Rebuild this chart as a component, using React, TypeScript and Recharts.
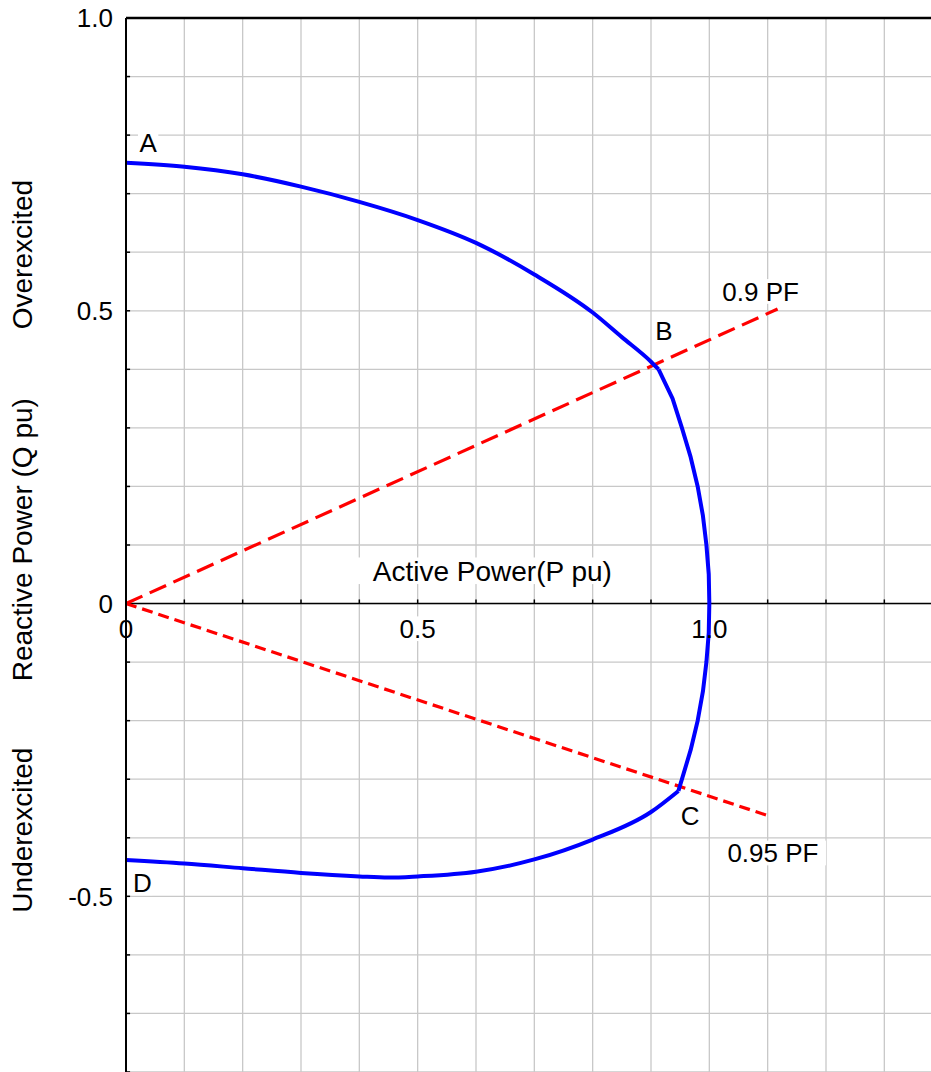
import React from "react";
import {
  CartesianGrid,
  ComposedChart,
  Line,
  ReferenceDot,
  ReferenceLine,
  XAxis,
  YAxis,
} from "recharts";

// capability curve pieces (P pu, Q pu)
const fieldLimit = [
  { p: 0, q: 0.753 },
  { p: 0.1, q: 0.746 },
  { p: 0.2, q: 0.733 },
  { p: 0.3, q: 0.712 },
  { p: 0.4, q: 0.686 },
  { p: 0.5, q: 0.655 },
  { p: 0.6, q: 0.616 },
  { p: 0.7, q: 0.562 },
  { p: 0.8, q: 0.497 },
  { p: 0.85, q: 0.455 },
  { p: 0.9, q: 0.413 },
  { p: 0.913, q: 0.4 },
];

const armatureLimit = [
  { p: 0.913, q: 0.4 },
  { p: 0.937, q: 0.35 },
  { p: 0.953, q: 0.3 },
  { p: 0.968, q: 0.25 },
  { p: 0.98, q: 0.2 },
  { p: 0.989, q: 0.15 },
  { p: 0.995, q: 0.1 },
  { p: 0.999, q: 0.05 },
  { p: 1.0, q: 0 },
  { p: 0.999, q: -0.05 },
  { p: 0.995, q: -0.1 },
  { p: 0.989, q: -0.15 },
  { p: 0.98, q: -0.2 },
  { p: 0.968, q: -0.25 },
  { p: 0.956, q: -0.29 },
  { p: 0.947, q: -0.32 },
];

const underexcitedLimit = [
  { p: 0, q: -0.438 },
  { p: 0.1, q: -0.444 },
  { p: 0.2, q: -0.452 },
  { p: 0.3, q: -0.46 },
  { p: 0.4, q: -0.466 },
  { p: 0.45, q: -0.468 },
  { p: 0.5, q: -0.466 },
  { p: 0.6, q: -0.458 },
  { p: 0.7, q: -0.437 },
  { p: 0.8, q: -0.403 },
  { p: 0.9, q: -0.356 },
  { p: 0.947, q: -0.32 },
];

const pf090 = [
  { p: 0, q: 0 },
  { p: 1.117, q: 0.503 },
];

const pf095 = [
  { p: 0, q: 0 },
  { p: 1.1, q: -0.362 },
];

const pTicks = [0, 0.1, 0.2, 0.3, 0.4, 0.5, 0.6, 0.7, 0.8, 0.9, 1.0, 1.1, 1.2, 1.3];
const qTicks = [
  -0.8, -0.7, -0.6, -0.5, -0.4, -0.3, -0.2, -0.1, 0, 0.1, 0.2, 0.3, 0.4, 0.5, 0.6,
  0.7, 0.8, 0.9, 1.0,
];
const qTickLabels = ["-0.5", "0", "0.5", "1.0"];

type Note = { text: string; p: number; q: number; box?: boolean; title?: boolean; rotate?: boolean };

const notes: Note[] = [
  { text: "A", p: 0.038, q: 0.787, box: true },
  { text: "B", p: 0.922, q: 0.466, box: true },
  { text: "C", p: 0.967, q: -0.362, box: true },
  { text: "D", p: 0.028, q: -0.477, box: true },
  { text: "0.9 PF", p: 1.088, q: 0.533, box: true },
  { text: "0.95 PF", p: 1.109, q: -0.426, box: true },
  { text: "Active Power(P pu)", p: 0.628, q: 0.056, box: true, title: true },
  { text: "0", p: 0, q: -0.043 },
  { text: "0.5", p: 0.5, q: -0.043, box: true },
  { text: "1.0", p: 1.0, q: -0.043 },
  { text: "Overexcited", p: -0.178, q: 0.596, rotate: true, title: true },
  { text: "Reactive Power (Q pu)", p: -0.178, q: 0.109, rotate: true, title: true },
  { text: "Underexcited", p: -0.178, q: -0.387, rotate: true, title: true },
];

const FONT = "'Liberation Sans', Arial, sans-serif";
const FS = 26;
const TITLE_FS = 28;
const GRID = "#c8c8c8";

function NoteText({ cx, cy, note }: { cx: number; cy: number; note: Note }) {
  const fs = note.title ? TITLE_FS : FS;
  const w = note.text.length * fs * 0.55 + 6;
  const h = fs * 0.95;
  return (
    <g transform={note.rotate ? `rotate(-90 ${cx} ${cy})` : undefined}>
      {note.box && <rect x={cx - w / 2} y={cy - h / 2} width={w} height={h} fill="#fff" />}
      <text
        x={cx}
        y={cy + fs * 0.36}
        textAnchor="middle"
        fontSize={fs}
        fontFamily={FONT}
        fill="#000"
      >
        {note.text}
      </text>
    </g>
  );
}

export default function App() {
  return (
    <div style={{ position: "absolute", left: 0, top: 0 }}>
      <ComposedChart
        width={931}
        height={1072}
        margin={{ top: 18, right: 0, bottom: 0, left: 0 }}
        style={{ fontFamily: FONT }}
      >
        <CartesianGrid stroke={GRID} strokeWidth={1.3} vertical={false} horizontalValues={qTicks} />
        <XAxis
          type="number"
          dataKey="p"
          domain={[0, 1.38]}
          allowDataOverflow
          ticks={pTicks}
          interval={0}
          height={0}
          tick={false}
          tickLine={false}
          axisLine={false}
        />
        <YAxis
          type="number"
          domain={[-0.8, 1.0]}
          allowDataOverflow
          ticks={qTicks}
          interval={0}
          width={126}
          axisLine={{ stroke: "#000", strokeWidth: 2 }}
          tickLine={false}
          tickSize={6}
          tickMargin={7}
          tick={{ fill: "#000", fontSize: FS, fontFamily: FONT }}
          tickFormatter={(v: number) => {
            const s = v === 1 ? "1.0" : String(v);
            return qTickLabels.includes(s) ? s : "";
          }}
        />
        {/* vertical grid lines */}
        {pTicks.slice(1).map((t) => (
          <ReferenceLine key={`vg${t}`} x={t} stroke={GRID} strokeWidth={1.3} />
        ))}
        <ReferenceLine y={1.0} stroke="#000" strokeWidth={2.5} />
        <ReferenceLine y={0} stroke="#000" strokeWidth={1.5} />
        {pTicks.slice(1).map((t) => (
          <ReferenceLine
            key={`pt${t}`}
            segment={[
              { x: t, y: 0 },
              { x: t, y: 0.007 },
            ]}
            stroke="#000"
            strokeWidth={1.5}
          />
        ))}
        {qTicks.slice(0, -1).map((t) => (
          <ReferenceLine
            key={`qt${t}`}
            segment={[
              { x: 0, y: t },
              { x: 0.007, y: t },
            ]}
            stroke="#000"
            strokeWidth={1.5}
          />
        ))}
        {notes.map((n) => (
          <ReferenceDot
            key={n.text}
            x={n.p}
            y={n.q}
            r={0}
            ifOverflow="visible"
            shape={(props: any) => <NoteText cx={props.cx} cy={props.cy} note={n} />}
          />
        ))}
        <Line
          data={pf090}
          dataKey="q"
          type="linear"
          stroke="#ff0000"
          strokeWidth={3.2}
          strokeDasharray="18 8"
          dot={false}
          activeDot={false}
          isAnimationActive={false}
        />
        <Line
          data={pf095}
          dataKey="q"
          type="linear"
          stroke="#ff0000"
          strokeWidth={3.2}
          strokeDasharray="11 6"
          dot={false}
          activeDot={false}
          isAnimationActive={false}
        />
        <Line
          data={fieldLimit}
          dataKey="q"
          type="monotone"
          stroke="#0000ff"
          strokeWidth={4}
          strokeLinejoin="round"
          dot={false}
          activeDot={false}
          isAnimationActive={false}
        />
        <Line
          data={armatureLimit}
          dataKey="q"
          type="linear"
          stroke="#0000ff"
          strokeWidth={4}
          strokeLinejoin="round"
          dot={false}
          activeDot={false}
          isAnimationActive={false}
        />
        <Line
          data={underexcitedLimit}
          dataKey="q"
          type="monotone"
          stroke="#0000ff"
          strokeWidth={4}
          strokeLinejoin="round"
          dot={false}
          activeDot={false}
          isAnimationActive={false}
        />
      </ComposedChart>
    </div>
  );
}
